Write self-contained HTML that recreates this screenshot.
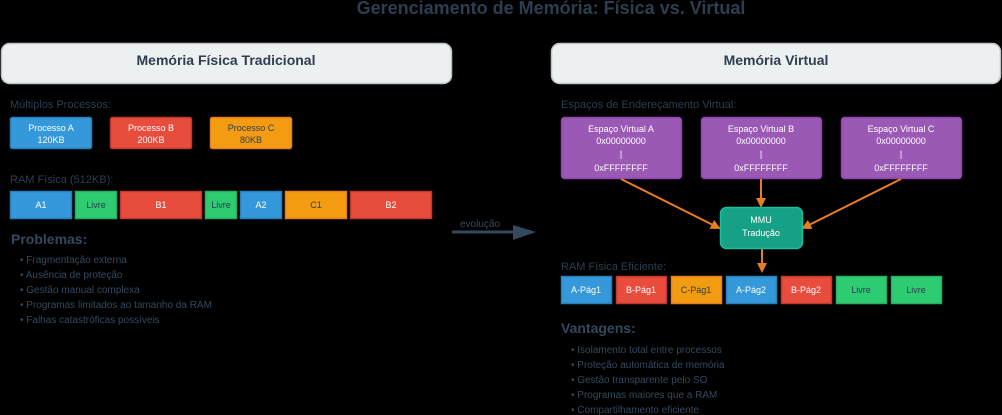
<!DOCTYPE html>
<html><head><meta charset="utf-8"><style>
html,body{margin:0;padding:0;background:#000;}
svg{display:block;font-family:"Liberation Sans",sans-serif;}
</style></head><body>
<svg width="1002" height="415" viewBox="0 0 1002 415" xmlns="http://www.w3.org/2000/svg">
<defs>
<marker id="ao" markerWidth="10" markerHeight="10" refX="8" refY="5" orient="auto" markerUnits="userSpaceOnUse"><path d="M0,0 L10,5 L0,10 z" fill="#e67e22"/></marker>
</defs>
<rect width="1002" height="415" fill="#000"/>
<text x="551" y="14" text-anchor="middle" font-size="18" font-weight="bold" fill="#2c3e50">Gerenciamento de Memória: Física vs. Virtual</text>

<rect x="1.5" y="43.5" width="450" height="40" rx="8" fill="#ecf0f1" stroke="#bdc3c7" stroke-width="1.5"/>
<text x="226" y="65" text-anchor="middle" font-size="14" font-weight="bold" fill="#2c3e50">Memória Física Tradicional</text>
<rect x="551.5" y="43.5" width="449" height="40" rx="8" fill="#ecf0f1" stroke="#bdc3c7" stroke-width="1.5"/>
<text x="776" y="65" text-anchor="middle" font-size="14" font-weight="bold" fill="#2c3e50">Memória Virtual</text>

<g font-size="11" fill="#2c3e50">
<text x="10" y="108">Múltiplos Processos:</text>
<text x="10" y="183">RAM Física (512KB):</text>
<text x="561" y="108">Espaços de Endereçamento Virtual:</text>
<text x="561" y="270">RAM Física Eficiente:</text>
</g>

<g stroke-width="1.5" font-size="9" text-anchor="middle" fill="#fff">
<rect x="10.5" y="117.5" width="81" height="31" rx="2" fill="#3498db" stroke="#2980b9"/>
<rect x="110.5" y="117.5" width="81" height="31" rx="2" fill="#e74c3c" stroke="#c0392b"/>
<rect x="210.5" y="117.5" width="81" height="31" rx="2" fill="#f39c12" stroke="#e67e22"/>
</g>
<g font-size="9" text-anchor="middle">
<text x="51" y="131" fill="#fff">Processo A</text><text x="51" y="143" fill="#fff">120KB</text>
<text x="151" y="131" fill="#fff">Processo B</text><text x="151" y="143" fill="#fff">200KB</text>
<text x="251" y="131" fill="#2c3e50">Processo C</text><text x="251" y="143" fill="#2c3e50">80KB</text>
</g>

<g stroke-width="1.5">
<rect x="10.5" y="191.5" width="61" height="27" fill="#3498db" stroke="#2980b9"/>
<rect x="75.5" y="191.5" width="41" height="27" fill="#2ecc71" stroke="#27ae60"/>
<rect x="120.5" y="191.5" width="81" height="27" fill="#e74c3c" stroke="#c0392b"/>
<rect x="205.5" y="191.5" width="31" height="27" fill="#2ecc71" stroke="#27ae60"/>
<rect x="240.5" y="191.5" width="41" height="27" fill="#3498db" stroke="#2980b9"/>
<rect x="285.5" y="191.5" width="61" height="27" fill="#f39c12" stroke="#e67e22"/>
<rect x="350.5" y="191.5" width="81" height="27" fill="#e74c3c" stroke="#c0392b"/>
</g>
<g font-size="9" text-anchor="middle">
<text x="41" y="208" fill="#fff">A1</text>
<text x="96" y="208" fill="#2c3e50">Livre</text>
<text x="161" y="208" fill="#fff">B1</text>
<text x="221" y="208" fill="#2c3e50">Livre</text>
<text x="261" y="208" fill="#fff">A2</text>
<text x="316" y="208" fill="#2c3e50">C1</text>
<text x="391" y="208" fill="#fff">B2</text>
</g>

<text x="11" y="244" font-size="14" font-weight="bold" fill="#34495e">Problemas:</text>
<g font-size="10" fill="#34495e">
<text x="20" y="263">• Fragmentação externa</text>
<text x="20" y="278">• Ausência de proteção</text>
<text x="20" y="293">• Gestão manual complexa</text>
<text x="20" y="308">• Programas limitados ao tamanho da RAM</text>
<text x="20" y="323">• Falhas catastróficas possíveis</text>
</g>

<text x="480" y="227" text-anchor="middle" font-size="10" fill="#34495e">evolução</text>
<line x1="452" y1="232" x2="515" y2="232" stroke="#34495e" stroke-width="3"/>
<path d="M513,225 L536,232 L513,240 z" fill="#34495e"/>

<g stroke="#8e44ad" stroke-width="1.5" fill="#9b59b6">
<rect x="561.5" y="117.5" width="120" height="61" rx="3"/>
<rect x="701.5" y="117.5" width="120" height="61" rx="3"/>
<rect x="841.5" y="117.5" width="120" height="61" rx="3"/>
</g>
<g font-size="9" text-anchor="middle" fill="#fff">
<text x="621" y="132">Espaço Virtual A</text><text x="621" y="144">0x00000000</text><text x="621" y="157">|</text><text x="621" y="171">0xFFFFFFFF</text>
<text x="761" y="132">Espaço Virtual B</text><text x="761" y="144">0x00000000</text><text x="761" y="157">|</text><text x="761" y="171">0xFFFFFFFF</text>
<text x="901" y="132">Espaço Virtual C</text><text x="901" y="144">0x00000000</text><text x="901" y="157">|</text><text x="901" y="171">0xFFFFFFFF</text>
</g>

<g stroke="#e67e22" stroke-width="2" marker-end="url(#ao)">
<line x1="621" y1="179" x2="719" y2="228"/>
<line x1="761" y1="179" x2="761" y2="206"/>
<line x1="901" y1="179" x2="803" y2="228"/>
<line x1="762" y1="249" x2="762" y2="271"/>
</g>

<rect x="720.5" y="207.5" width="82" height="41" rx="6" fill="#16a085" stroke="#1abc9c" stroke-width="1.5"/>
<text x="761" y="223" text-anchor="middle" font-size="9" fill="#fff">MMU</text>
<text x="761" y="236" text-anchor="middle" font-size="9" fill="#fff">Tradução</text>

<g stroke-width="1.5">
<rect x="561.5" y="276.5" width="50" height="27" fill="#3498db" stroke="#2980b9"/>
<rect x="616.5" y="276.5" width="50" height="27" fill="#e74c3c" stroke="#c0392b"/>
<rect x="671.5" y="276.5" width="50" height="27" fill="#f39c12" stroke="#e67e22"/>
<rect x="726.5" y="276.5" width="50" height="27" fill="#3498db" stroke="#2980b9"/>
<rect x="781.5" y="276.5" width="50" height="27" fill="#e74c3c" stroke="#c0392b"/>
<rect x="836.5" y="276.5" width="50" height="27" fill="#2ecc71" stroke="#27ae60"/>
<rect x="891.5" y="276.5" width="50" height="27" fill="#2ecc71" stroke="#27ae60"/>
</g>
<g font-size="9" text-anchor="middle">
<text x="586" y="293" fill="#fff">A-Pág1</text>
<text x="641" y="293" fill="#fff">B-Pág1</text>
<text x="696" y="293" fill="#2c3e50">C-Pág1</text>
<text x="751" y="293" fill="#fff">A-Pág2</text>
<text x="806" y="293" fill="#fff">B-Pág2</text>
<text x="861" y="293" fill="#2c3e50">Livre</text>
<text x="916" y="293" fill="#2c3e50">Livre</text>
</g>

<text x="561" y="333" font-size="14" font-weight="bold" fill="#34495e">Vantagens:</text>
<g font-size="10" fill="#34495e">
<text x="571" y="353">• Isolamento total entre processos</text>
<text x="571" y="368">• Proteção automática de memória</text>
<text x="571" y="383">• Gestão transparente pelo SO</text>
<text x="571" y="398">• Programas maiores que a RAM</text>
<text x="571" y="413">• Compartilhamento eficiente</text>
</g>
</svg>
</body></html>
